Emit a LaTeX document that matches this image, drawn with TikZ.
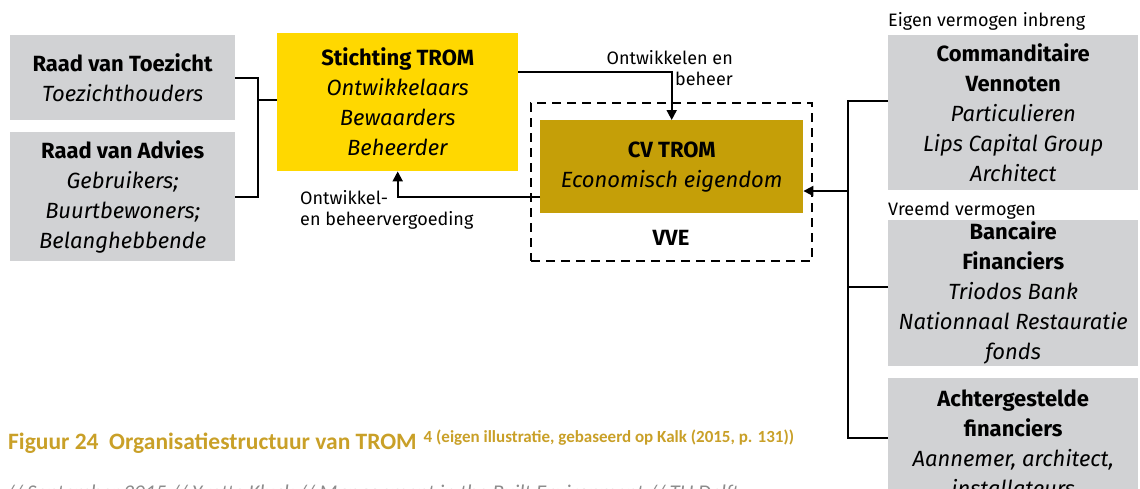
\documentclass[tikz,border=0pt]{standalone}
\usepackage{fontspec}
\setmainfont{Fira Sans}
\newfontfamily\capfont{Carlito}
\usetikzlibrary{arrows.meta}
\definecolor{grijs}{RGB}{209,210,212}
\definecolor{geel}{RGB}{255,216,0}
\definecolor{goud}{RGB}{197,159,8}
\definecolor{bijschrift}{RGB}{201,160,40}
\begin{document}
\begin{tikzpicture}[x=1pt, y=-1pt,
		blok/.style={rectangle, inner sep=0pt, align=center, anchor=north west, font=\fontsize{22}{30}\selectfont},
		lijn/.style={line width=2pt},
		pijl/.style={line width=2pt, -{Triangle[length=10pt,width=10pt]}},
		klein/.style={inner sep=0pt, font=\fontsize{18}{21.5}\selectfont}]
	\useasboundingbox (0,0) rectangle (1140,488);
	
	\node[blok, fill=grijs, minimum width=225pt, minimum height=85pt] (rvt) at (10,35) {\textbf{Raad van Toezicht}\\\textit{Toezichthouders}};
	\node[blok, fill=grijs, minimum width=225pt, minimum height=129pt] (rva) at (10,132) {\textbf{Raad van Advies}\\\textit{Gebruikers;}\\\textit{Buurtbewoners;}\\\textit{Belanghebbende}};
	\node[blok, fill=geel, minimum width=241pt, minimum height=138pt] (stichting) at (277,33) {\textbf{Stichting TROM}\\\textit{Ontwikkelaars}\\\textit{Bewaarders}\\\textit{Beheerder}};
	
	\node[blok, draw, dashed, line width=2pt, dash pattern=on 9pt off 6pt, minimum width=281pt, minimum height=158pt] (vve) at (530,102) {};
	\node[blok, fill=goud, minimum width=263pt, minimum height=93pt] (cv) at (540,120) {\textbf{CV TROM}\\\textit{Economisch eigendom}};
	\node[blok, anchor=base] (vvetekst) at (671,245) {\textbf{VVE}};
	
	\node[blok, fill=grijs, minimum width=250pt, minimum height=155pt] (comm) at (888,35) {\textbf{Commanditaire}\\\textbf{Vennoten}\\\textit{Particulieren}\\\textit{Lips Capital Group}\\\textit{Architect}};
	\node[blok, fill=grijs, minimum width=250pt, minimum height=146pt] (banc) at (888,220) {\textbf{Bancaire}\\\textbf{Financiers}\\\textit{Triodos Bank}\\\textit{Nationnaal Restauratie}\\\textit{fonds}};
	\node[blok, fill=grijs, minimum width=250pt, minimum height=130pt] (achter) at (888,378) {\textbf{Achtergestelde}\\\textbf{financiers}\\\textit{Aannemer, architect,}\\\textit{installateurs}};
	
	\node[klein, anchor=base west] (eigen) at (888,26) {Eigen vermogen inbreng};
	\node[klein, anchor=base west] (vreemd) at (888,215) {Vreemd vermogen};
	\node[klein, align=right, anchor=north east] (ontw) at (733,50) {Ontwikkelen en\\beheer};
	\node[klein, align=left, anchor=north west] (vergoeding) at (300,190) {Ontwikkel-\\en beheervergoeding};
	
	\coordinate (knik) at (258,100);
	\draw[lijn] (rvt.east) -| (knik) |- (rva.east);
	\draw[lijn] (knik) -- (knik -| stichting.west);
	\draw[pijl] ([yshift=30pt]stichting.east) -| (cv.north);
	\draw[pijl] ([yshift=-30.5pt]cv.west) -| (stichting.south);
	
	\coordinate (railtop) at (848,101);
	\coordinate (railbot) at (848,438);
	\coordinate (railpijl) at (848,191);
	\draw[lijn] (railtop -| comm.west) -- (railtop) -- (railbot) -- (railbot -| achter.west);
	\draw[lijn] ([yshift=6pt]banc.west) -- ([yshift=6pt]banc.west -| railtop);
	\draw[pijl] (railpijl) -- (railpijl -| cv.east);
	
	\node[anchor=base west, inner sep=0pt, text=bijschrift, font=\capfont\bfseries\fontsize{23.5}{26}\selectfont] (figuur) at (8,449) {Figuur 24\ \ Organisatiestructuur van TROM\hspace{7pt}\raisebox{7pt}{\fontsize{17}{19}\selectfont 4 (eigen illustratie, gebaseerd op Kalk (2015, p. 131))}};
	\node[anchor=base west, inner sep=0pt, text=black!45, font=\capfont\itshape\fontsize{21}{25}\selectfont] (voet) at (6,499) {// September 2015 // Yvette Kluck // Management in the Built Environment // TU Delft};
\end{tikzpicture}
\end{document}
